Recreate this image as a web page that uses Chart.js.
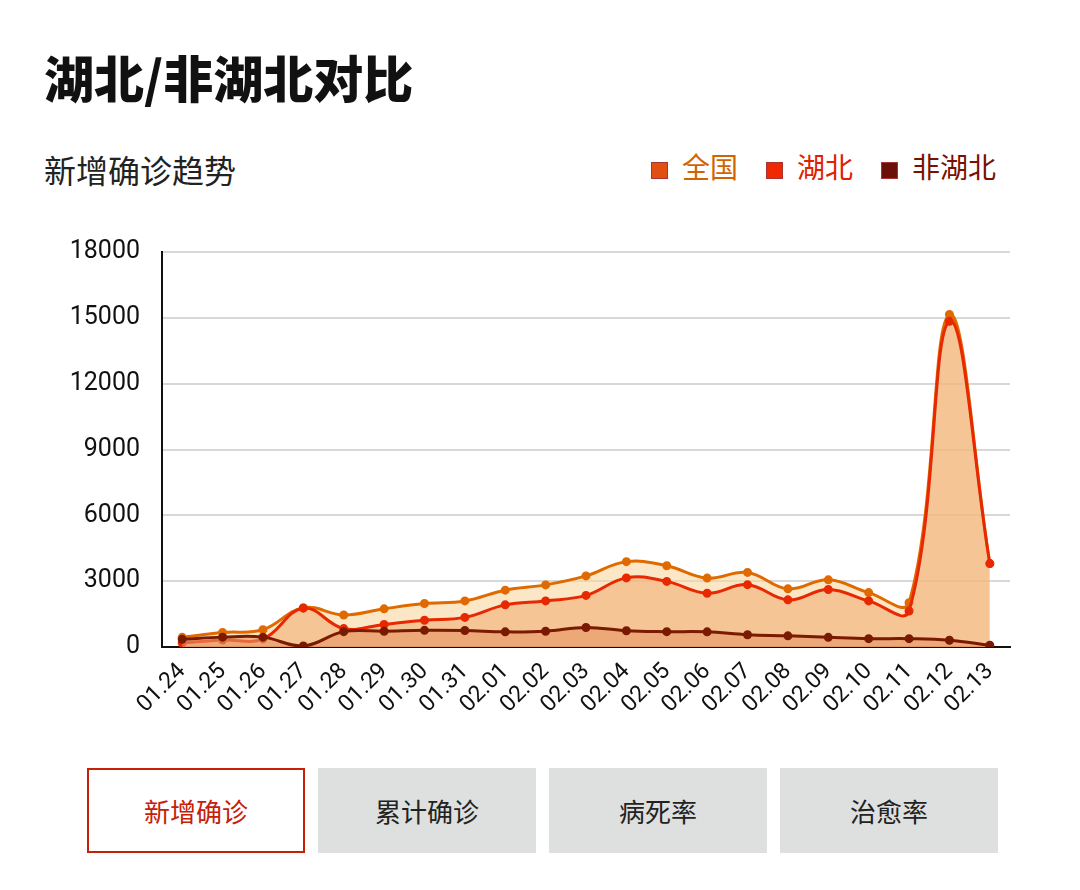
<!DOCTYPE html>
<html><head><meta charset="utf-8">
<script src="https://cdn.jsdelivr.net/npm/chart.js@4/dist/chart.umd.min.js"></script>
<style>
body{margin:0;width:1080px;height:890px;background:#fff;font-family:"Noto Sans CJK SC","Noto Sans",sans-serif;position:relative;overflow:hidden}
#title{position:absolute;left:44px;top:40px;font-size:50px;font-weight:900;color:#111}
#sub{position:absolute;left:44px;top:146px;font-size:32px;color:#222}
#legend{position:absolute;right:84px;top:146px;font-size:28px;display:flex;gap:28px}
#legend span i{display:inline-block;width:15px;height:15px;margin-right:14px;vertical-align:middle;border:1px solid #a33}
#wrap{position:absolute;left:40px;top:215px;width:990px;height:520px}
.btn{position:absolute;top:768px;width:218px;height:85px;background:#dde0de;font-size:26px;display:flex;align-items:center;justify-content:center;color:#222;box-sizing:border-box}
</style></head><body>
<div id="title">湖北/非湖北对比</div>
<div id="sub">新增确诊趋势</div>
<div id="legend">
<span style="color:#d26400"><i style="background:#e05010"></i>全国</span>
<span style="color:#e02000"><i style="background:#f02800"></i>湖北</span>
<span style="color:#7a1000"><i style="background:#6a1008"></i>非湖北</span>
</div>
<div id="wrap"><canvas id="c"></canvas></div>
<div class="btn" style="left:87px;background:#fff;border:2px solid #c4200a;color:#c4200a">新增确诊</div>
<div class="btn" style="left:318px">累计确诊</div>
<div class="btn" style="left:549px">病死率</div>
<div class="btn" style="left:780px">治愈率</div>
<script>
const dates = ["01.24","01.25","01.26","01.27","01.28","01.29","01.30","01.31","02.01","02.02","02.03","02.04","02.05","02.06","02.07","02.08","02.09","02.10","02.11","02.12","02.13"];
const national = [440,660,790,1790,1460,1740,1980,2100,2590,2830,3240,3890,3700,3140,3400,2650,3060,2480,2020,15150,3800];
const hubei = [180,320,370,1770,840,1030,1220,1350,1920,2100,2350,3150,2990,2450,2840,2150,2620,2100,1640,14840,3800];
const nonHubei = [350,450,450,50,700,720,760,750,690,720,890,740,700,690,560,510,440,380,380,310,80];
const yTicks = [0,3000,6000,9000,12000,15000,18000];

const ds = (label, data, line, fill) => ({label, data, borderColor: line, backgroundColor: fill,
  pointBackgroundColor: line, pointBorderColor: line, pointRadius: 3, borderWidth: 3, fill: 'origin', tension: 0.4});

new Chart(document.getElementById('c'), {
  type: 'line',
  data: { labels: dates, datasets: [
    ds('非湖北', nonHubei, '#7a1a00', 'rgba(232,150,100,0.6)'),
    ds('湖北', hubei, '#e82800', 'rgba(240,170,110,0.55)'),
    ds('全国', national, '#e06a00', 'rgba(248,215,160,0.6)')
  ]},
  options: {
    responsive: true, maintainAspectRatio: false, animation: false,
    layout: { padding: { top: 12, right: 20 } },
    plugins: { legend: { display: false }, tooltip: { enabled: false } },
    scales: {
      y: { min: 0, max: 18000, afterBuildTicks: s => { s.ticks = yTicks.map(v => ({value: v})); },
        afterFit: s => { s.width = 122; },
        grid: { color: '#d8d8d8', lineWidth: 2, drawTicks: false },
        border: { color: '#111', width: 2 },
        ticks: { color: '#111', font: { size: 25, family: 'Roboto' }, padding: 22, callback: v => String(v) } },
      x: { offset: true, afterFit: s => { s.height = 88; },
        grid: { display: false }, border: { color: '#111', width: 2 },
        ticks: { color: '#111', font: { size: 23, family: 'Roboto' }, maxRotation: 45, minRotation: 45, autoSkip: false } }
    }
  }
});
</script>
</body></html>
